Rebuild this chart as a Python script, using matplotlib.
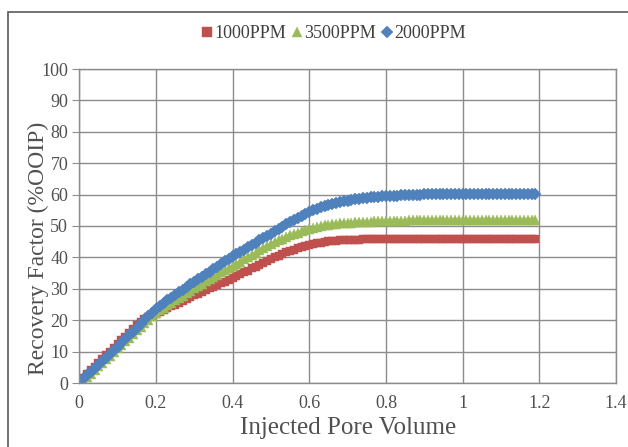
import numpy as np
import matplotlib
matplotlib.use("Agg")
import matplotlib.pyplot as plt
from matplotlib.patches import Rectangle

# Injected pore volume (x), 0.01 .. 1.19
pore_volume = [round(0.01 * i, 2) for i in range(1, 120)]

rf_1000ppm = [
    1.6, 2.8, 4.0, 5.2, 6.4, 7.6, 8.8, 10.0, 11.2, 12.4,
    13.6, 14.8, 16.0, 17.2, 18.4, 19.5, 20.3, 20.9, 21.4, 21.9,
    22.5, 23.1, 23.8, 24.4, 25.0, 25.6, 26.2, 26.8, 27.4, 28.0,
    28.5, 29.1, 29.6, 30.2, 30.7, 31.3, 31.8, 32.3, 32.9, 33.4,
    34.0, 34.6, 35.2, 35.8, 36.5, 37.1, 37.7, 38.3, 38.9, 39.5,
    40.1, 40.6, 41.1, 41.6, 42.0, 42.5, 42.9, 43.3, 43.7, 44.0,
    44.3, 44.5, 44.7, 44.9, 45.1, 45.2, 45.3, 45.4, 45.5, 45.6,
    45.6, 45.7, 45.7, 45.8, 45.8, 45.8, 45.9, 45.9, 45.9, 45.9,
    46.0, 46.0, 46.0, 46.0, 46.0, 46.0, 46.0, 46.0, 46.0, 46.0,
    46.0, 46.0, 46.0, 46.0, 46.0, 46.0, 46.0, 46.0, 46.0, 46.0,
    46.0, 46.0, 46.0, 46.0, 46.0, 46.0, 46.0, 46.0, 46.0, 46.0,
    46.0, 46.0, 46.0, 46.0, 46.0, 46.0, 46.0, 46.0, 46.0,
]

rf_3500ppm = [
    0.8, 1.9, 3.0, 4.2, 5.3, 6.4, 7.6, 8.7, 9.8, 11.0,
    12.1, 13.3, 14.4, 15.6, 16.8, 17.9, 19.0, 20.2, 21.3, 22.3,
    23.1, 23.9, 24.7, 25.5, 26.3, 27.1, 27.8, 28.6, 29.4, 30.2,
    30.9, 31.6, 32.4, 33.1, 33.8, 34.5, 35.2, 35.9, 36.6, 37.2,
    37.9, 38.6, 39.4, 40.1, 40.8, 41.5, 42.2, 42.9, 43.6, 44.2,
    44.8, 45.4, 46.0, 46.5, 47.0, 47.5, 47.9, 48.3, 48.7, 49.1,
    49.4, 49.7, 50.0, 50.2, 50.4, 50.6, 50.7, 50.8, 50.9, 51.0,
    51.1, 51.2, 51.3, 51.3, 51.4, 51.4, 51.5, 51.5, 51.6, 51.6,
    51.6, 51.7, 51.7, 51.7, 51.7, 51.8, 51.8, 51.8, 51.8, 51.8,
    51.8, 51.8, 51.9, 51.9, 51.9, 51.9, 51.9, 51.9, 51.9, 51.9,
    51.9, 51.9, 51.9, 51.9, 51.9, 51.9, 51.9, 51.9, 51.9, 51.9,
    51.9, 51.9, 51.9, 51.9, 51.9, 51.9, 51.9, 51.9, 51.9,
]

rf_2000ppm = [
    1.2, 2.4, 3.5, 4.7, 5.8, 7.0, 8.1, 9.3, 10.4, 11.6,
    12.8, 14.0, 15.2, 16.4, 17.6, 18.8, 20.0, 21.2, 22.4, 23.6,
    24.5, 25.4, 26.3, 27.2, 28.0, 28.9, 29.7, 30.6, 31.4, 32.3,
    33.1, 33.9, 34.7, 35.5, 36.3, 37.1, 37.9, 38.7, 39.5, 40.3,
    41.0, 41.8, 42.5, 43.2, 44.0, 44.7, 45.4, 46.1, 46.9, 47.6,
    48.3, 49.1, 49.8, 50.5, 51.2, 51.9, 52.6, 53.2, 53.8, 54.4,
    55.0, 55.5, 56.0, 56.4, 56.8, 57.1, 57.4, 57.7, 57.9, 58.1,
    58.3, 58.5, 58.7, 58.9, 59.0, 59.1, 59.2, 59.3, 59.4, 59.5,
    59.6, 59.6, 59.7, 59.8, 59.8, 59.9, 59.9, 60.0, 60.0, 60.1,
    60.1, 60.1, 60.1, 60.2, 60.2, 60.2, 60.2, 60.2, 60.2, 60.2,
    60.2, 60.2, 60.2, 60.2, 60.2, 60.2, 60.2, 60.2, 60.2, 60.2,
    60.2, 60.2, 60.2, 60.2, 60.2, 60.2, 60.2, 60.2, 60.3,
]

series_labels = ["1000PPM", "3500PPM", "2000PPM"]
x_ticks = [0, 0.2, 0.4, 0.6, 0.8, 1, 1.2, 1.4]
x_tick_labels = ["0", "0.2", "0.4", "0.6", "0.8", "1", "1.2", "1.4"]
y_ticks = [0, 10, 20, 30, 40, 50, 60, 70, 80, 90, 100]

plt.rcParams['font.family'] = ['Liberation Serif', 'DejaVu Serif']

W, H = 628, 447
fig = plt.figure(figsize=(W / 100, H / 100), dpi=100)
fig.patch.set_facecolor('white')
# outer chart frame
fig.add_artist(Rectangle((8 / W, -0.05), 1.0, 1 - 12 / H + 0.05,
                         transform=fig.transFigure, fill=False,
                         edgecolor='#5a5a5a', linewidth=1.2))

ax = fig.add_axes([79.3 / W, 1 - 383 / H, (616 - 79.3) / W, (383 - 69) / H])

ax.plot(pore_volume, rf_1000ppm, linestyle='none', marker='s', markersize=6.3,
        color='#C0504D', markeredgecolor='#C0504D', markeredgewidth=0.3, label=series_labels[0])
ax.plot(pore_volume, rf_3500ppm, linestyle='none', marker='^', markersize=7.0,
        color='#9BBB59', markeredgecolor='#9BBB59', markeredgewidth=0.3, label=series_labels[1])
ax.plot(pore_volume, rf_2000ppm, linestyle='none', marker='D', markersize=6.0,
        color='#4F81BD', markeredgecolor='#4F81BD', markeredgewidth=0.3, label=series_labels[2])

ax.set_xlim(0, 1.4)
ax.set_ylim(0, 100)
ax.set_xticks(x_ticks)
ax.set_xticklabels(x_tick_labels)
ax.set_yticks(y_ticks)

ax.grid(True, color='#8c8c8c', linewidth=1.0)
ax.set_axisbelow(True)
for s in ax.spines.values():
    s.set_color('#8c8c8c')
    s.set_linewidth(1.0)

ax.tick_params(axis='y', direction='out', length=5, color='#8c8c8c',
               labelsize=13, labelcolor='#505050', pad=3)
ax.tick_params(axis='x', direction='out', length=0, labelsize=13,
               labelcolor='#505050', pad=9)

ax.set_xlabel('Injected Pore Volume', fontsize=18, color='#505050')
ax.xaxis.set_label_coords(0.5, -(428 - 383) / (383 - 69), transform=ax.transAxes)
ax.xaxis.label.set_verticalalignment('center')
ax.set_ylabel('Recovery Factor (%OOIP)', fontsize=17, color='#505050')
ax.yaxis.set_label_coords(-(79.3 - 38) / (616 - 79.3), (383 - 248) / (383 - 69), transform=ax.transAxes)
ax.yaxis.label.set_verticalalignment('center')

leg = fig.legend(loc='center', bbox_to_anchor=(334 / W, 1 - 34 / H), ncol=3,
                 frameon=False, fontsize=13, handlelength=0.6, handletextpad=0.1,
                 columnspacing=0.3, markerscale=1.05)
for t in leg.get_texts():
    t.set_color('#404040')

fig.savefig('out.png', dpi=100)
